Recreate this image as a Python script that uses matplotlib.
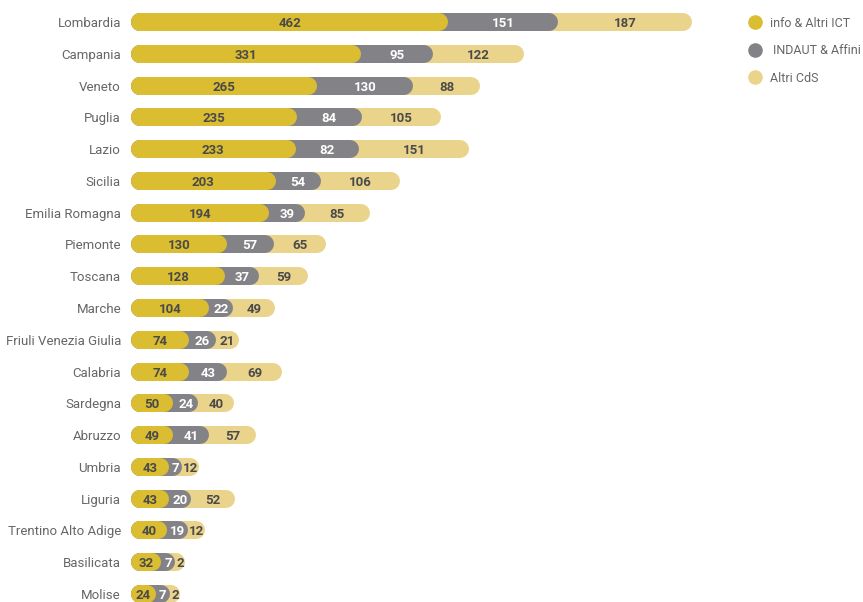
import matplotlib.pyplot as plt
from matplotlib.lines import Line2D

# Data
regions = ["Lombardia", "Campania", "Veneto", "Puglia", "Lazio", "Sicilia",
           "Emilia Romagna", "Piemonte", "Toscana", "Marche",
           "Friuli Venezia Giulia", "Calabria", "Sardegna", "Abruzzo",
           "Umbria", "Liguria", "Trentino Alto Adige", "Basilicata", "Molise"]
info_ict = [462, 331, 265, 235, 233, 203, 194, 130, 128, 104, 74, 74, 50, 49, 43, 43, 40, 32, 24]
indaut = [151, 95, 130, 84, 82, 54, 39, 57, 37, 22, 26, 43, 24, 41, 7, 20, 19, 7, 7]
altri = [187, 122, 88, 105, 151, 106, 85, 65, 59, 49, 21, 69, 40, 57, 12, 52, 12, 2, 2]
series_names = ["info & Altri ICT", "INDAUT & Affini", "Altri CdS"]

colors = ["#DBBD32", "#838387", "#EAD48B"]
label_colors = ["#4a4a4a", "#ffffff", "#4a4a4a"]
text_gray = "#666666"

W, H = 863, 602
px_per_unit = 0.6675   # pixels per value unit
pad_px = 9             # extra length per segment so small labels fit
bar_px = 18
row_px = 31.78
first_row_px = 22
left_px = 131

plt.rcParams["font.family"] = ["Roboto", "DejaVu Sans"]

fig = plt.figure(figsize=(W / 100, H / 100), dpi=100)
ax = fig.add_axes([left_px / W, 0, (W - left_px) / W, 1])
ax.set_xlim(0, (W - left_px) / px_per_unit)
n = len(regions)
ax.set_ylim((H - first_row_px) / row_px, -first_row_px / row_px)
ax.axis("off")

pad = pad_px / px_per_unit
cap = (bar_px / 2) / px_per_unit
lw = bar_px * 72 / 100

for i in range(n):
    vals = [info_ict[i], indaut[i], altri[i]]
    ends = []
    c = 0
    for k, v in enumerate(vals):
        c += v + pad
        ends.append(c)
    # draw back to front so each pill overlaps the next one
    for k in [2, 1, 0]:
        ax.plot([cap, ends[k] - cap], [i, i], color=colors[k], lw=lw,
                solid_capstyle="round", zorder=2 + (2 - k))
    starts = [0] + ends[:-1]
    for k, v in enumerate(vals):
        ax.text((starts[k] + ends[k]) / 2, i, str(v), ha="center", va="center_baseline",
                fontsize=9.5, fontweight="bold", color=label_colors[k], zorder=10)
    ax.text(-10 / px_per_unit, i, regions[i], ha="right", va="center_baseline",
            fontsize=9.5, color=text_gray)

# Legend
for k, name in enumerate(series_names):
    y = 1 - (22 + k * 27.5) / H
    fig.add_artist(Line2D([755 / W], [y], transform=fig.transFigure, marker="o",
                          markersize=9.5, color=colors[k], linestyle="none"))
    fig.text((770 + 3 * (k == 1)) / W, y, name, ha="left", va="center_baseline",
             fontsize=9, color=text_gray)

fig.savefig("out.png", dpi=100)
